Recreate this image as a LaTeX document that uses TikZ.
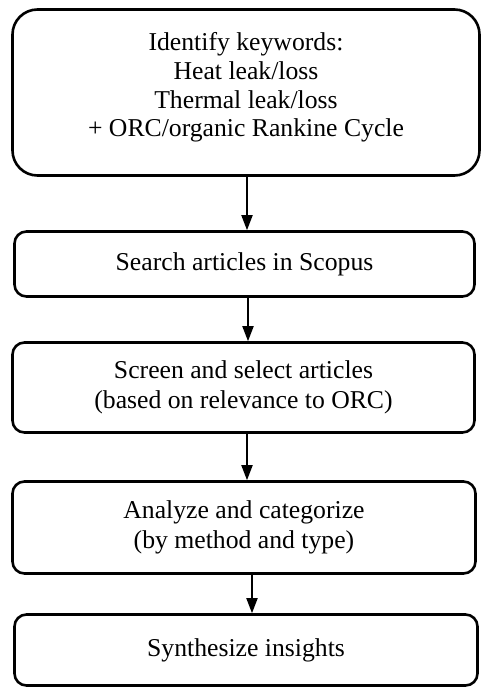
\documentclass[tikz,border=0pt]{standalone}
\usepackage{fontspec}
\setmainfont{Liberation Serif}
\usetikzlibrary{arrows.meta}
\begin{document}
\begin{tikzpicture}[x=1pt,y=-1pt,
  box/.style={draw, line width=2.6pt, rounded corners=12pt, align=center,
    font=\fontsize{25.7}{29.5}\selectfont, inner sep=0pt},
  arr/.style={-{Triangle[length=15pt,width=11pt]}, line width=1.8pt}]
\useasboundingbox (0,0) rectangle (490,695);
\node[box, rounded corners=25pt, minimum width=467pt, minimum height=166pt] (b1) at (246,92.5) {};
\node[align=center, font=\fontsize{25.7}{28.8}\selectfont, inner sep=0pt] (t1) at (246,87.5)
  {Identify keywords:\\Heat leak/loss\\Thermal leak/loss\\+ ORC/organic Rankine Cycle};
\node[box, minimum width=460pt, minimum height=65pt] (b2) at (244.5,264) {Search articles in Scopus};
\node[box, minimum width=462pt, minimum height=90pt] (b3) at (243.5,387.5) {Screen and select articles\\(based on relevance to ORC)};
\node[box, minimum width=463pt, minimum height=92pt] (b4) at (244,527.5) {Analyze and categorize\\(by method and type)};
\node[box, minimum width=463pt, minimum height=71pt] (b5) at (246,650) {Synthesize insights};
\draw[arr] ([xshift=1pt]b1.south) -- ([xshift=1pt]b1.south |- b2.north);
\draw[arr] ([xshift=3.5pt]b2.south) -- ([xshift=3.5pt]b2.south |- b3.north);
\draw[arr] ([xshift=3.5pt]b3.south) -- ([xshift=3.5pt]b3.south |- b4.north);
\draw[arr] ([xshift=8pt]b4.south) -- ([xshift=8pt]b4.south |- b5.north);
\end{tikzpicture}
\end{document}
